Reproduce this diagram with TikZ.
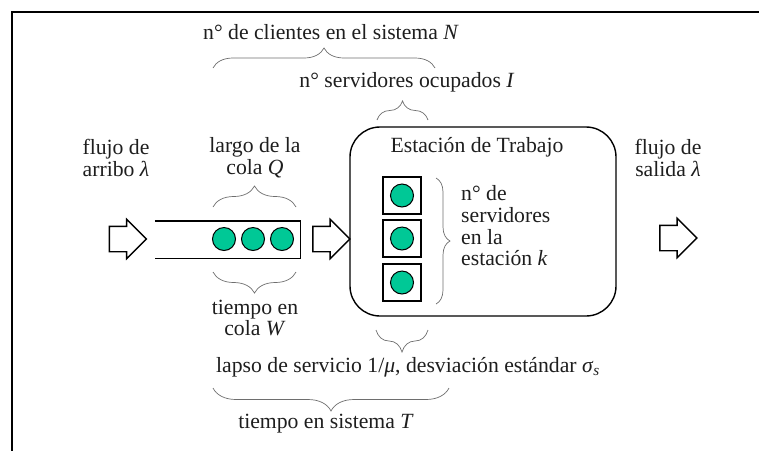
\documentclass[tikz,border=0pt]{standalone}
\usepackage{fontspec}
\setmainfont{Liberation Serif}
\usetikzlibrary{shapes.arrows,decorations.pathreplacing}
\definecolor{custgreen}{RGB}{0,200,150}
\definecolor{txt}{RGB}{30,30,30}
\definecolor{bracegray}{RGB}{110,110,110}
\tikzset{
  lbl/.style={font=\fontsize{21.7}{21.7}\selectfont, align=center, inner sep=0pt, text=txt},
  blockarrow/.style={single arrow, draw, line width=1.4pt, minimum height=37pt,
    inner ysep=12pt, inner xsep=0pt, single arrow head extend=7pt, single arrow tip angle=90},
  srv/.style={draw, line width=1.4pt, minimum width=38pt, minimum height=37pt, inner sep=0pt},
  cust/.style={circle, draw, line width=1pt, fill=custgreen, minimum size=23pt, inner sep=0pt},
  br/.style={decorate, decoration={brace, amplitude=#1}, draw=bracegray, line width=0.7pt},
  frame/.style={line width=2pt}
}
\begin{document}
\begin{tikzpicture}[x=1pt,y=-1pt]
\useasboundingbox (0,0) rectangle (759,451);
% frame
\coordinate (fTR) at (759,12);
\coordinate (fTL) at (12,12);
\coordinate (fBL) at (12,451);
\draw[frame] (fTR) -- (fTL) -- (fBL);

% texts
\node[lbl] (tN) at (331,32) {n° de clientes en el sistema \textit{N}};
\node[lbl] (tI) at (407,82) {n° servidores ocupados \textit{I}};
\node[lbl] (tIn) at (116,158) {flujo de\\arribo \textit{λ}};
\node[lbl] (tQ) at (255,158) {largo de la\\cola \textit{Q}};
\node[lbl] (tOut) at (668,158) {flujo de\\salida \textit{λ}};
\node[lbl] (tW) at (255,318) {tiempo en\\cola \textit{W}};
\node[lbl] (tS) at (408,367) {lapso de servicio 1/\textit{μ}, desviación estándar \textit{σ}\textsubscript{\textit{s}}};
\node[lbl] (tT) at (326,424) {tiempo en sistema \textit{T}};

% station
\node[draw, line width=1.4pt, rounded corners=30pt, minimum width=266pt, minimum height=189pt] (st) at (483,221.5) {};
\node[lbl] (tSt) at (477,147) {Estación de Trabajo};
\node[srv] (s1) at (402,195.5) {};
\node[srv] (s2) at (402,238.5) {};
\node[srv] (s3) at (402,282.5) {};
\node[cust] (c1) at (s1) {};
\node[cust] (c2) at (s2) {};
\node[cust] (c3) at (s3) {};
\node[lbl, align=left, anchor=west] (tk) at (461,226) {n° de\\servidores\\en la\\estación \textit{k}};

% queue
\node[minimum width=145pt, minimum height=37pt, inner sep=0pt] (q) at (227.5,239.5) {};
\draw[line width=1.4pt] (q.north west) -- (q.north east) -- (q.south east) -- (q.south west);
\node[cust] (q1) at (224,239) {};
\node[cust] (q2) at (253,239) {};
\node[cust] (q3) at (282,239) {};

% block arrows
\node[blockarrow] (a1) at (121.5,239) {};
\node[blockarrow] (a2) at (325,239) {};
\node[blockarrow] (a3) at (672,238) {};

% braces
\coordinate (b1a) at (213,68);  \coordinate (b1b) at (435,68);
\coordinate (b2a) at (377,120); \coordinate (b2b) at (428,120);
\coordinate (b3a) at (213,207); \coordinate (b3b) at (296,207);
\coordinate (b4a) at (296,272); \coordinate (b4b) at (213,272);
\coordinate (b5a) at (436,178); \coordinate (b5b) at (436,304);
\coordinate (b6a) at (428,330); \coordinate (b6b) at (376,330);
\coordinate (b7a) at (449,388); \coordinate (b7b) at (213,388);
\draw[br=20pt] (b1a) -- (b1b);
\draw[br=19pt] (b2a) -- (b2b);
\draw[br=21pt] (b3a) -- (b3b);
\draw[br=21pt] (b4a) -- (b4b);
\draw[br=14pt] (b5a) -- (b5b);
\draw[br=22pt] (b6a) -- (b6b);
\draw[br=23pt] (b7a) -- (b7b);
\end{tikzpicture}
\end{document}
